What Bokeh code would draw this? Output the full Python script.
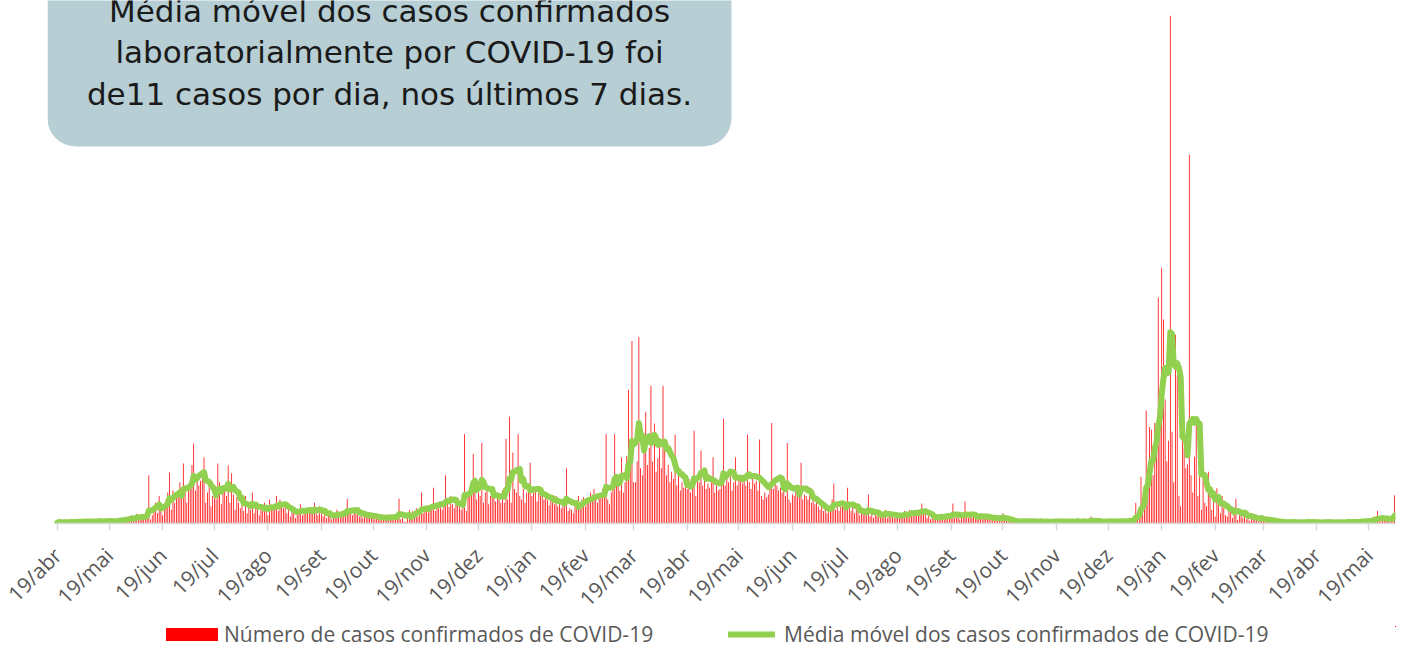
import math
import pandas as pd
from bokeh.plotting import figure
from bokeh.layouts import column
from bokeh.models import (Range1d, FixedTicker, ColumnDataSource, BoxAnnotation,
                          Label, Legend, LegendItem)
from bokeh.embed import file_html
from bokeh.resources import INLINE

# ---------------- data ----------------
data_inicio = "2020-04-19"

casos_diarios = [
    1, 3, 2, 0, 4, 1, 2,  2, 4, 1, 3, 0, 5, 2,  3, 5, 2, 1, 4, 2, 4,  2, 1, 6, 3, 4, 2, 3,
    5, 2, 3, 6, 1, 4, 3,  4, 8, 5, 9, 3, 7, 6,  8, 12, 6, 10, 14, 5, 9,  10, 13, 8, 16, 70, 6, 12,
    22, 30, 15, 40, 28, 12, 25,  35, 45, 74, 20, 48, 30, 40,  45, 60, 38, 87, 55, 30, 50,
    60, 85, 116, 48, 70, 55, 62,  75, 96, 30, 45, 60, 25, 40,  50, 35, 87, 60, 28, 55, 48,
    40, 84, 30, 73, 42, 20, 38,  30, 22, 35, 18, 40, 15, 28,  20, 45, 15, 28, 22, 12, 26,
    18, 30, 25, 12, 35, 20, 22,  25, 40, 18, 35, 30, 22, 26,  15, 22, 10, 25, 18, 8, 20,
    18, 28, 12, 22, 16, 20, 17,  22, 15, 30, 18, 12, 25, 18,  10, 16, 8, 14, 12, 6, 15,
    12, 20, 14, 9, 18, 16, 13,  36, 15, 22, 12, 20, 14, 18,  10, 15, 8, 14, 12, 9, 16,
    8, 12, 6, 10, 9, 5, 11,  7, 11, 9, 6, 12, 8, 10,  9, 14, 36, 6, 8, 3, 2,
    14, 20, 12, 18, 16, 22, 10,  18, 45, 15, 24, 20, 16, 22,  25, 52, 18, 30, 22, 28, 20,
    30, 70, 30, 24, 40, 28, 22,  28, 35, 24, 20, 32, 130, 18,  40, 40, 50, 101, 55, 35, 45,
    40, 117, 30, 45, 50, 28, 40,  40, 52, 32, 45, 35, 30, 48,  30, 123, 35, 155, 30, 103, 50,
    45, 130, 40, 35, 50, 30, 45,  50, 88, 40, 45, 50, 32, 45,  42, 50, 35, 38, 34, 26, 40,
    35, 28, 40, 25, 30, 22, 32,  25, 80, 18, 22, 20, 15, 24,  30, 40, 28, 35, 38, 25, 36,
    38, 45, 35, 50, 42, 30, 40,  42, 50, 38, 130, 35, 28, 45,  50, 130, 55, 60, 48, 96, 45,
    60, 98, 194, 80, 265, 60, 60,  90, 271, 80, 70, 110, 162, 85,  110, 200, 90, 145, 75, 95, 120,
    80, 200, 116, 70, 85, 60, 75,  65, 129, 55, 70, 48, 60, 52,  55, 50, 65, 45, 58, 135, 40,
    70, 60, 106, 55, 72, 50, 58,  52, 60, 96, 45, 55, 48, 50,  65, 152, 55, 70, 60, 75, 48,
    60, 96, 55, 70, 62, 58, 65,  55, 129, 60, 50, 65, 58, 62,  48, 122, 40, 35, 45, 38, 42,
    58, 146, 50, 60, 55, 48, 52,  45, 50, 40, 117, 35, 30, 42,  40, 55, 45, 50, 88, 35, 42,
    40, 35, 45, 30, 38, 28, 32,  25, 20, 30, 18, 22, 15, 20,  22, 35, 58, 20, 25, 18, 24,
    25, 30, 20, 52, 22, 18, 28,  15, 20, 18, 12, 22, 14, 16,  12, 42, 10, 14, 8, 15, 11,
    12, 18, 10, 15, 20, 8, 14,  10, 15, 8, 12, 14, 9, 13,  12, 18, 14, 10, 20, 16, 13,
    15, 20, 12, 18, 29, 14, 16,  8, 12, 6, 10, 9, 5, 11,  10, 14, 8, 12, 9, 13, 11,
    10, 29, 8, 9, 12, 6, 10,  12, 32, 10, 8, 11, 9, 10,  8, 12, 10, 15, 9, 7, 11,
    7, 10, 6, 9, 8, 5, 11,  5, 8, 15, 4, 6, 3, 2,  3, 4, 2, 5, 1, 3, 4,
    2, 5, 3, 1, 4, 3, 2,  4, 2, 3, 5, 1, 2, 3,  3, 1, 4, 2, 5, 3, 2,
    2, 4, 3, 1, 3, 5, 2,  3, 2, 5, 4, 1, 2, 3,  4, 3, 2, 5, 10, 1, 3,
    2, 3, 1, 4, 3, 2, 5,  3, 2, 4, 1, 3, 5, 2,  4, 3, 2, 5, 3, 6, 4,
    4, 8, 30, 12, 20, 68, 25,  45, 164, 60, 140, 136, 70, 146,  110, 328, 150, 371, 296, 180, 90,
    120, 737, 133, 60, 274, 215, 40,  25, 136, 110, 80, 86, 535, 70,  45, 97, 148, 40, 80, 20, 72,
    30, 25, 75, 48, 20, 35, 10,  51, 30, 15, 40, 22, 12, 10,  28, 20, 8, 15, 36, 5, 12,
    15, 8, 20, 6, 10, 4, 12,  8, 5, 12, 3, 6, 9, 4,  5, 3, 8, 2, 4, 6, 1,
    2, 1, 3, 0, 2, 4, 1,  3, 2, 1, 2, 0, 3, 2,  1, 3, 2, 1, 4, 2, 1,
    2, 0, 3, 2, 1, 2, 3,  1, 2, 3, 1, 2, 0, 2,  3, 1, 2, 2, 1, 3, 2,
    3, 1, 4, 2, 0, 3, 5,  5, 2, 6, 3, 1, 4, 7,  10, 6, 18, 4, 3, 9, 4,
    8, 6, 10, 9, 3, 41,
]

rotulos_eixo = ["19/abr", "19/mai", "19/jun", "19/jul", "19/ago", "19/set", "19/out",
                "19/nov", "19/dez", "19/jan", "19/fev", "19/mar", "19/abr", "19/mai",
                "19/jun", "19/jul", "19/ago", "19/set", "19/out", "19/nov", "19/dez",
                "19/jan", "19/fev", "19/mar", "19/abr", "19/mai"]

texto_caixa = ["Média móvel dos casos confirmados",
               "laboratorialmente por COVID-19 foi",
               "de11 casos por dia, nos últimos 7 dias."]

nome_barras = "Número de casos confirmados de COVID-19"
nome_linha = "Média móvel dos casos confirmados de COVID-19"

COR_BARRA = "#FF0000"
COR_LINHA = "#92D050"

# ---------------- derived ----------------
inicio = pd.Timestamp(data_inicio)
n = len(casos_diarios)
dias = list(range(n))
media_movel = pd.Series(casos_diarios, dtype=float).rolling(7, min_periods=1).mean().tolist()
src = ColumnDataSource(dict(d=dias, casos=casos_diarios, media=media_movel))

datas_ticks = [inicio + pd.DateOffset(months=i) for i in range(len(rotulos_eixo))]
pos_ticks = [int((t - inicio).days) for t in datas_ticks]

# ---------------- main figure ----------------
PX_DIA = 1.7255
folga = 9 / PX_DIA          # room on the left for the text box
p = figure(width=1407, height=626, output_backend="svg", toolbar_location=None,
           x_range=Range1d(-0.5 - folga, n - 0.5), y_range=Range1d(0, 759),
           y_axis_location=None, min_border_left=47, min_border_right=12,
           min_border_top=0, min_border_bottom=103)
p.outline_line_color = None
p.xgrid.visible = False
p.ygrid.visible = False

p.vbar(x="d", top="casos", width=0.45, source=src,
       fill_color=COR_BARRA, line_color=None)
p.line(x="d", y="media", source=src, line_color=COR_LINHA,
       line_width=6, line_join="round", line_cap="round")

ax = p.xaxis[0]
ax.bounds = (-0.5, n - 0.5)
ax.ticker = FixedTicker(ticks=pos_ticks)
ax.major_label_overrides = {pt: r for pt, r in zip(pos_ticks, rotulos_eixo)}
ax.major_label_orientation = math.pi / 4
ax.axis_line_color = "#D9D9D9"
ax.axis_line_width = 1.5
ax.major_tick_line_color = "#D9D9D9"
ax.major_tick_line_width = 1.5
ax.major_tick_in = 0
ax.major_tick_out = 7
ax.minor_tick_line_color = None
ax.major_label_text_font = "Open Sans"
ax.major_label_text_font_size = "21px"
ax.major_label_text_color = "#595959"
ax.major_label_standoff = 21

caixa = BoxAnnotation(left=0, right=684, bottom=377, top=620,
                      left_units="screen", right_units="screen",
                      bottom_units="screen", top_units="screen",
                      fill_color="#B6CED4", fill_alpha=1.0, line_color=None,
                      border_radius=28)
p.add_layout(caixa)

for linha_txt, yb in zip(texto_caixa, [513, 472, 430]):
    p.add_layout(Label(x=342, y=yb, x_units="screen", y_units="screen",
                       text=linha_txt, text_align="center", text_baseline="alphabetic",
                       text_font="DejaVu Sans", text_font_size="31px",
                       text_color="#1A1A1A"))

# ---------------- legend strip ----------------
pl = figure(width=1407, height=20, output_backend="svg", toolbar_location=None,
            x_range=Range1d(-2000, -1999), y_range=Range1d(-10, -5),
            x_axis_location=None, y_axis_location=None, min_border=0)
pl.outline_line_color = None
pl.xgrid.visible = False
pl.ygrid.visible = False
rb = pl.vbar(x="d", top="casos", width=0.45, source=src, fill_color=COR_BARRA,
             line_color=None)
rl = pl.line(x="d", y="media", source=src, line_color=COR_LINHA, line_width=6,
             line_cap="round")
estilo = dict(orientation="horizontal", label_height=25, label_text_font="Open Sans",
              label_text_font_size="21px", label_text_color="#595959",
              border_line_alpha=0, background_fill_alpha=0, padding=0, margin=0)
leg1 = Legend(items=[LegendItem(label=nome_barras, renderers=[rb])],
              location=(112, -2), glyph_width=65, glyph_height=16, label_standoff=0,
              **estilo)
leg2 = Legend(items=[LegendItem(label=nome_linha, renderers=[rl])],
              location=(681, -2), glyph_width=47, glyph_height=16, label_standoff=9,
              **estilo)
pl.add_layout(leg1, "center")
pl.add_layout(leg2, "center")

layout = column(p, pl, spacing=0)
open("out.html", "w").write(file_html(layout, INLINE))
